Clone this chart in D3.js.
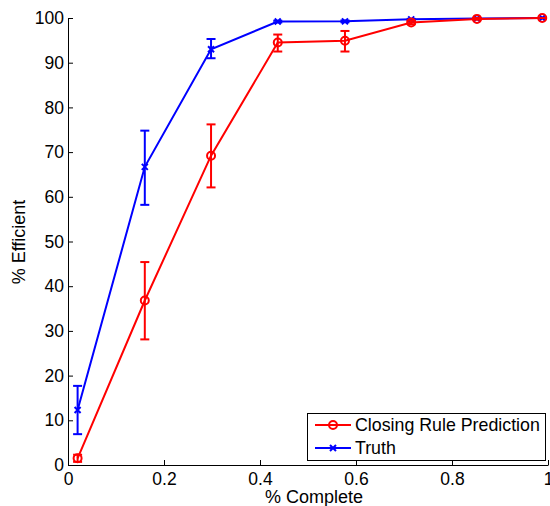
<!DOCTYPE html>
<html>
<head>
<meta charset="utf-8">
<script src="https://cdn.jsdelivr.net/npm/d3@7"></script>
<style>
body { margin: 0; background: #fff; }
svg { display: block; font-family: "Liberation Sans", Arial, sans-serif; }
</style>
</head>
<body>
<svg id="chart" width="550" height="506"></svg>
<script>
const xValues = [0.02, 0.16, 0.298, 0.437, 0.577, 0.715, 0.852, 0.988];
const predMean = [1.5, 36.8, 69.2, 94.5, 94.9, 99.0, 99.8, 100];
const predLow  = [0.7, 28.1, 62.1, 92.5, 92.5, 98.6, 99.6, 100];
const predHigh = [2.3, 45.4, 76.2, 96.3, 97.1, 99.4, 100, 100];
const truthMean = [12.3, 66.7, 93.0, 99.2, 99.25, 99.7, 99.9, 100];
const truthLow  = [6.9, 58.2, 91.0, 99.0, 99.05, 99.6, 99.85, 100];
const truthHigh = [17.7, 74.8, 95.3, 99.4, 99.45, 99.8, 99.95, 100];
const xTicks = [0, 0.2, 0.4, 0.6, 0.8, 1];
const yTicks = [0, 10, 20, 30, 40, 50, 60, 70, 80, 90, 100];
const seriesNames = ["Closing Rule Prediction", "Truth"];
const seriesColors = ["#ff0000", "#0000ff"];

const svg = d3.select("#chart");
const x = d3.scaleLinear().domain([0, 1]).range([68, 548]);
const y = d3.scaleLinear().domain([0, 100]).range([465, 18]);

// axes
const xAxis = d3.axisBottom(x).tickValues(xTicks).tickSizeInner(-5).tickSizeOuter(0).tickPadding(8)
  .tickFormat(d => d === 0 ? "0" : d === 1 ? "1" : d3.format(".1f")(d));
const gx = svg.append("g").attr("transform", "translate(0,465)").call(xAxis);
const yAxis = d3.axisLeft(y).tickValues(yTicks).tickSizeInner(-5).tickSizeOuter(0).tickPadding(4);
const gy = svg.append("g").attr("transform", "translate(68,0)").call(yAxis);
[gx, gy].forEach(g => {
  g.selectAll("path.domain").attr("stroke", "#000").attr("stroke-width", 1);
  g.selectAll(".tick line").attr("stroke", "#000");
  g.selectAll(".tick text").attr("fill", "#000").style("font-size", "17.5px").style("font-family", "'Liberation Sans', Arial, sans-serif");
});
gx.selectAll(".tick text").attr("dy", "0.71em");

// axis labels
svg.append("text").attr("x", 314).attr("y", 503).attr("text-anchor", "middle")
  .style("font-size", "18px").text("% Complete");
svg.append("text").attr("transform", "translate(25,242) rotate(-90)").attr("text-anchor", "middle")
  .style("font-size", "18px").text("% Efficient");

const series = [
  { mean: truthMean, low: truthLow, high: truthHigh, color: seriesColors[1], marker: "x" },
  { mean: predMean, low: predLow, high: predHigh, color: seriesColors[0], marker: "o" }
];

const line = d3.line().x(d => x(d[0])).y(d => y(d[1]));

function drawMarker(g, cx, cy, type, color) {
  if (type === "o") {
    g.append("circle").attr("cx", cx).attr("cy", cy).attr("r", 4)
      .attr("fill", "none").attr("stroke", color).attr("stroke-width", 2);
  } else {
    const s = 3;
    g.append("path").attr("d", `M${cx - s},${cy - s}L${cx + s},${cy + s}M${cx - s},${cy + s}L${cx + s},${cy - s}`)
      .attr("stroke", color).attr("stroke-width", 2);
  }
}

series.forEach(s => {
  const g = svg.append("g");
  const pts = xValues.map((xv, i) => [xv, s.mean[i]]);
  g.append("path").attr("d", line(pts)).attr("fill", "none").attr("stroke", s.color).attr("stroke-width", 2);
  xValues.forEach((xv, i) => {
    const cx = x(xv);
    const yl = y(s.low[i]), yh = y(s.high[i]);
    g.append("line").attr("x1", cx).attr("x2", cx).attr("y1", yl).attr("y2", yh)
      .attr("stroke", s.color).attr("stroke-width", 2);
    [yl, yh].forEach(yy => g.append("line").attr("x1", cx - 4.5).attr("x2", cx + 4.5).attr("y1", yy).attr("y2", yy)
      .attr("stroke", s.color).attr("stroke-width", 2));
    drawMarker(g, cx, y(s.mean[i]), s.marker, s.color);
  });
});

// legend
const lg = svg.append("g");
lg.append("rect").attr("x", 307.5).attr("y", 413.5).attr("width", 238).attr("height", 47)
  .attr("fill", "#fff").attr("stroke", "#000").attr("stroke-width", 1);
const legendItems = [
  { name: seriesNames[0], color: seriesColors[0], marker: "o", yy: 425 },
  { name: seriesNames[1], color: seriesColors[1], marker: "x", yy: 448 }
];
legendItems.forEach(it => {
  lg.append("line").attr("x1", 315).attr("x2", 351).attr("y1", it.yy).attr("y2", it.yy)
    .attr("stroke", it.color).attr("stroke-width", 2);
  drawMarker(lg, 333, it.yy, it.marker, it.color);
  lg.append("text").attr("x", 355).attr("y", it.yy).attr("dy", "0.35em")
    .style("font-size", "17.8px").text(it.name);
});
</script>
</body>
</html>
